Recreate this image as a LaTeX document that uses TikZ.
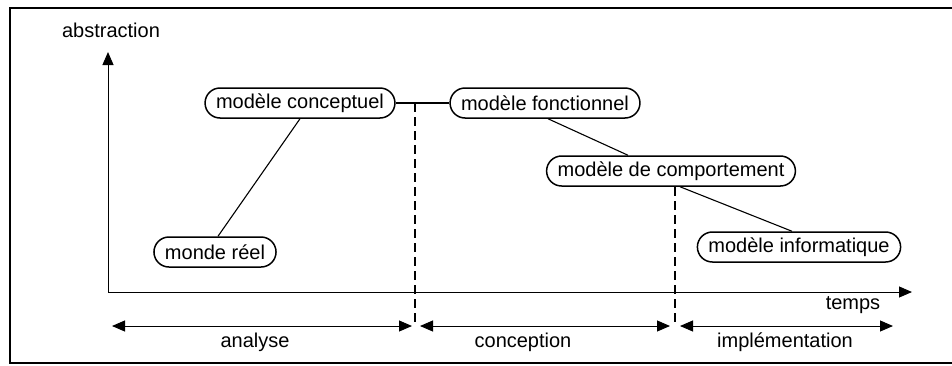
\documentclass[tikz,border=0pt]{standalone}
\usepackage{fontspec}
\setmainfont{Liberation Sans}
\usetikzlibrary{arrows.meta}
\begin{document}
\begin{tikzpicture}[x=1pt,y=-1pt,
  model/.style={draw,line width=1.5pt,rounded corners=15pt,minimum height=30pt,
    inner xsep=11pt,font=\fontsize{20}{22}\selectfont},
  lbl/.style={font=\fontsize{20}{22}\selectfont,inner sep=0pt},
  link/.style={line width=1.1pt},
  tip/.style={-{Triangle[length=13pt,width=11pt]}},
  phase/.style={line width=1pt,{Triangle[length=13pt,width=11pt]}-{Triangle[length=13pt,width=11pt]}},
  sep/.style={line width=1.1pt,dash pattern=on 9pt off 5pt}]
\useasboundingbox (0,0) rectangle (952,365);
% frame
\draw[line width=1.5pt] (952,8) -- (10,8) -- (10,363) -- (952,363);
% axes
\coordinate (O) at (108,292);
\coordinate (Ytop) at (108,52);
\coordinate (Xend) at (912,292);
\draw[line width=1pt,tip] (O) -- (Ytop);
\draw[line width=1pt,tip] (O) -- (Xend);
\node[lbl] (abs) at (111,30) {abstraction};
\node[lbl] (tps) at (853,305) {temps};
% models
\node[model] (conc) at (300,103) {modèle conceptuel};
\node[model] (fonc) at (545,103) {modèle fonctionnel};
\node[model] (comp) at (671,171) {modèle de comportement};
\node[model] (info) at (799,247) {modèle informatique};
\node[model] (reel) at (215,252) {monde réel};
% links between models
\draw[link] (conc.east) -- (fonc.west);
\draw[link] (conc.south) -- ([xshift=3pt]reel.north);
\draw[link] ([xshift=3pt]fonc.south) -- ([xshift=-43pt]comp.north);
\draw[link] ([xshift=9pt]comp.south) -- ([xshift=-7pt]info.north);
% phase separators
\coordinate (s1top) at (415,103);
\coordinate (s1bot) at (415,323);
\coordinate (s2top) at (675,187);
\coordinate (s2bot) at (675,323);
\draw[sep] (s1top) -- (s1bot);
\draw[sep] (s2top) -- (s2bot);
% phases
\coordinate (a1) at (112,326);
\coordinate (a2) at (412,326);
\coordinate (b1) at (420,326);
\coordinate (b2) at (670,326);
\coordinate (i1) at (680,326);
\coordinate (i2) at (893,326);
\draw[phase] (a1) -- (a2);
\draw[phase] (b1) -- (b2);
\draw[phase] (i1) -- (i2);
\node[lbl] (an) at (255,342) {analyse};
\node[lbl] (co) at (523,342) {conception};
\node[lbl] (im) at (785,342) {implémentation};
\end{tikzpicture}
\end{document}
